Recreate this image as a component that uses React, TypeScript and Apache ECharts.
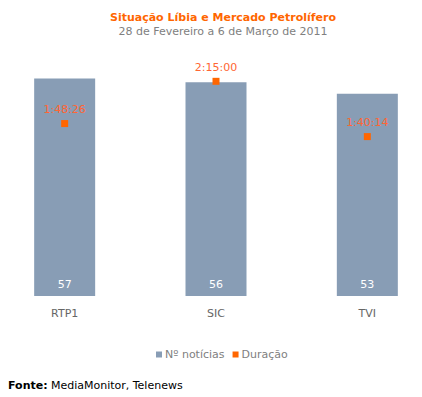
import React, { useEffect, useRef } from "react";
import * as echarts from "echarts";

const categories = ["RTP1", "SIC", "TVI"];
const noticias = [57, 56, 53];
// durations in seconds: 1:48:26, 2:15:00, 1:40:14
const duracao = [6506, 8100, 6014];

const FONT = "DejaVu Sans, Verdana, sans-serif";
const OFF = 11; // chart canvas starts 11px left of the page

function fmt(sec: number): string {
  const h = Math.floor(sec / 3600);
  const m = Math.floor((sec % 3600) / 60);
  const s = sec % 60;
  return `${h}:${String(m).padStart(2, "0")}:${String(s).padStart(2, "0")}`;
}

export default function App() {
  const ref = useRef<HTMLDivElement>(null);
  useEffect(() => {
    const chart = echarts.init(ref.current!, null, { renderer: "svg" });
    chart.setOption({
      animation: false,
      backgroundColor: "#ffffff",
      textStyle: { fontFamily: FONT },
      title: {
        text: "Situação Líbia e Mercado Petrolífero",
        subtext: "28 de Fevereiro a 6 de Março de 2011",
        left: 218 + OFF,
        top: 7,
        textAlign: "center",
        itemGap: 3,
        textStyle: { fontSize: 11, fontWeight: "bold", color: "#FF6600", fontFamily: FONT },
        subtextStyle: { fontSize: 11, color: "#808080", fontFamily: FONT },
      },
      legend: {
        left: 151 + OFF,
        top: 344,
        icon: "rect",
        itemWidth: 6,
        itemHeight: 6,
        itemGap: 8,
        textStyle: { fontSize: 11, color: "#808080", fontFamily: FONT, padding: [0, 0, 0, -2] },
        data: ["Nº notícias", "Duração"],
      },
      grid: { left: 0, right: 0, top: 67, bottom: 101 },
      xAxis: {
        type: "category",
        data: categories,
        axisLine: { show: false },
        axisTick: { show: false },
        axisLabel: { color: "#666666", fontSize: 11, margin: 12, fontFamily: FONT },
      },
      yAxis: [
        { type: "value", min: 0, max: 60, show: false, splitLine: { show: false } },
        { type: "value", min: 0, max: 8640, show: false, splitLine: { show: false } },
      ],
      series: [
        {
          name: "Nº notícias",
          type: "bar",
          data: noticias,
          barWidth: 61,
          itemStyle: { color: "#889DB5" },
          label: {
            show: true,
            position: "insideBottom",
            distance: 6,
            color: "#ffffff",
            fontSize: 11,
            fontFamily: FONT,
          },
        },
        {
          name: "Duração",
          type: "line",
          yAxisIndex: 1,
          data: duracao,
          symbol: "rect",
          symbolSize: 7,
          itemStyle: { color: "#FF6600" },
          lineStyle: { width: 0, opacity: 0 },
          label: {
            show: true,
            position: "top",
            distance: 5,
            color: "#FF6633",
            fontSize: 11,
            fontFamily: FONT,
            formatter: (p: any) => fmt(p.value),
          },
        },
      ],
      graphic: [
        {
          type: "text",
          left: 8 + OFF,
          top: 379,
          style: {
            text: "{b|Fonte:} {n|MediaMonitor, Telenews}",
            rich: {
              b: { fontWeight: "bold", color: "#000000", fontSize: 11, fontFamily: FONT },
              n: { color: "#330033", fontSize: 11, fontFamily: FONT },
            },
          },
        },
      ],
    });
    return () => chart.dispose();
  }, []);
  return (
    <div
      style={{
        position: "absolute",
        left: 0,
        top: 0,
        width: 422,
        height: 397,
        overflow: "hidden",
        background: "#ffffff",
      }}
    >
      <div
        ref={ref}
        style={{ position: "absolute", left: -OFF, top: 0, width: 454, height: 397 }}
      />
    </div>
  );
}
